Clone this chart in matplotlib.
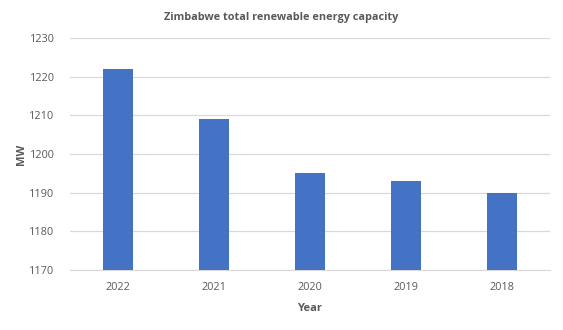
import matplotlib
matplotlib.use("Agg")
import matplotlib.pyplot as plt

years = ["2022", "2021", "2020", "2019", "2018"]
capacity_mw = [1222, 1209, 1195, 1193, 1190]
y_ticks = [1170, 1180, 1190, 1200, 1210, 1220, 1230]

text_col = "#595959"
plt.rcParams["font.family"] = ["Open Sans", "DejaVu Sans"]

fig = plt.figure(figsize=(5.63, 3.30), dpi=100)
ax = fig.add_axes([0.124, 0.182, 0.853, 0.703])

x = range(len(years))
ax.bar(x, capacity_mw, width=0.31, color="#4472C4", zorder=3)

ax.set_xlim(-0.5, len(years) - 0.5)
ax.set_ylim(1170, 1230)
ax.set_yticks(y_ticks)
ax.set_xticks(list(x))
ax.set_xticklabels(years)
ax.grid(axis="y", color="#D9D9D9", linewidth=0.9, zorder=0)
ax.tick_params(axis="y", length=0, labelsize=7.8, colors=text_col, pad=11)
ax.tick_params(axis="x", length=0, labelsize=7.8, colors=text_col, pad=9)

for s in ["top", "right", "left"]:
    ax.spines[s].set_visible(False)
ax.spines["bottom"].set_color("#D9D9D9")

ax.set_ylabel("MW", fontsize=8, fontweight="bold", color=text_col, labelpad=2)
ax.set_xlabel("Year", fontsize=8, fontweight="bold", color=text_col, labelpad=7)
fig.suptitle("Zimbabwe total renewable energy capacity", x=0.5, y=0.965,
             fontsize=7.8, fontweight="bold", color=text_col)

fig.savefig("out.png", dpi=100)
